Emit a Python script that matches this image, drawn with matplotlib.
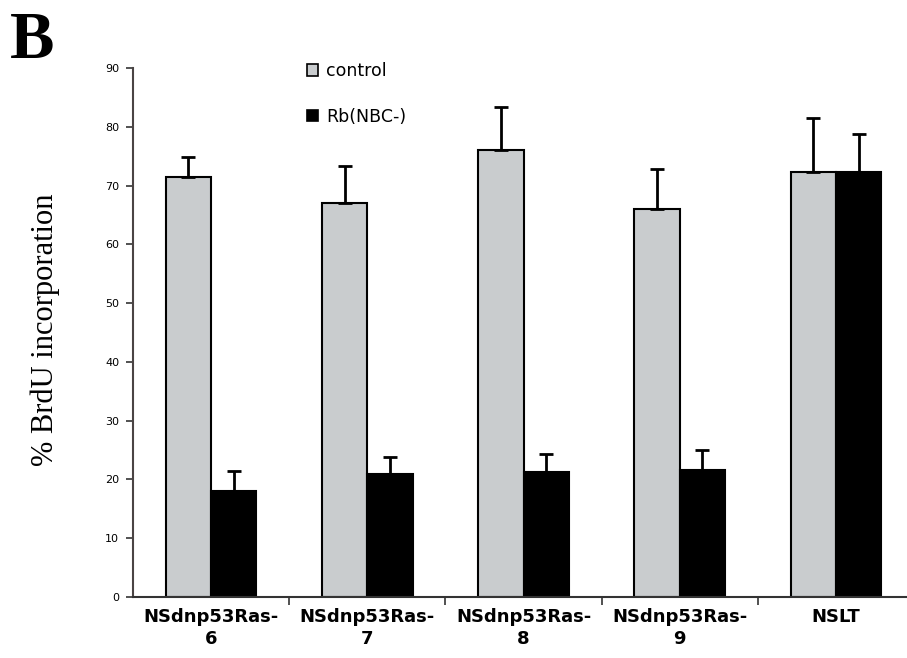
import matplotlib
matplotlib.use("Agg")
import matplotlib.pyplot as plt
import numpy as np
from matplotlib.patches import Patch

categories = ["NSdnp53Ras-\n6", "NSdnp53Ras-\n7", "NSdnp53Ras-\n8", "NSdnp53Ras-\n9", "NSLT"]
control = [71.5, 67.0, 76.0, 66.0, 72.3]
control_err = [3.3, 6.3, 7.3, 6.8, 9.2]
rb = [18.0, 21.0, 21.3, 21.6, 72.3]
rb_err = [3.5, 2.8, 3.0, 3.4, 6.4]
yticks = list(range(0, 91, 10))

W, H = 907, 658
fig = plt.figure(figsize=(W / 100, H / 100), dpi=100)
ax = fig.add_axes([133 / W, 1 - 597 / H, (914 - 133) / W, (597 - 68) / H])

x = np.arange(len(categories))
bw = 0.29
grey = "#c9ccce"
ax.bar(x - bw / 2, control, bw, color=grey, edgecolor="black", linewidth=1.5, zorder=2)
ax.bar(x + bw / 2, rb, bw, color="black", edgecolor="black", linewidth=1.5, zorder=2)
ax.errorbar(x - bw / 2, control, yerr=[np.zeros(len(control)), control_err], fmt="none",
            ecolor="black", elinewidth=2, capsize=5, capthick=2, zorder=3)
ax.errorbar(x + bw / 2, rb, yerr=[np.zeros(len(rb)), rb_err], fmt="none",
            ecolor="black", elinewidth=2, capsize=5, capthick=2, zorder=3)

ax.set_xlim(-0.5, len(categories) - 0.5)
ax.set_ylim(0, 90)
ax.set_yticks(yticks)
ax.set_yticklabels([str(t) for t in yticks], fontsize=8)
ax.set_xticks(x)
ax.set_xticklabels(categories, fontsize=13, linespacing=1.25, fontweight="bold")
ax.set_xticks(np.arange(0.5, len(categories) - 0.5, 1), minor=True)
ax.tick_params(axis="x", which="major", length=0, pad=8)
ax.tick_params(axis="x", which="minor", length=6, width=1.2, direction="out", color="#333333")
ax.tick_params(axis="y", length=5, width=1.2, direction="out", color="#333333", pad=5)

for s in ["top", "right"]:
    ax.spines[s].set_visible(False)
ax.spines["left"].set_color("#4a4444")
ax.spines["left"].set_linewidth(1.5)
ax.spines["bottom"].set_color("#333333")
ax.spines["bottom"].set_linewidth(1.5)

handles = [Patch(facecolor=grey, edgecolor="black", linewidth=1.2),
           Patch(facecolor="black", edgecolor="black", linewidth=1.2)]
fig.legend(handles, ["control", "Rb(NBC-)"], loc="upper left",
           bbox_to_anchor=(300 / W, 1 - 55 / H), frameon=False, fontsize=12.5,
           handlelength=0.65, handleheight=0.65, handletextpad=0.45, labelspacing=1.6,
           borderaxespad=0)

fig.text(45 / W, 1 - 330 / H, "% BrdU incorporation", rotation=90, fontsize=22,
         family="Liberation Serif", ha="center", va="center")
fig.text(10 / W, 1 - 58 / H, "B", fontsize=48, family="Liberation Serif",
         fontweight="bold", ha="left", va="baseline")

fig.savefig("out.png", dpi=100)
